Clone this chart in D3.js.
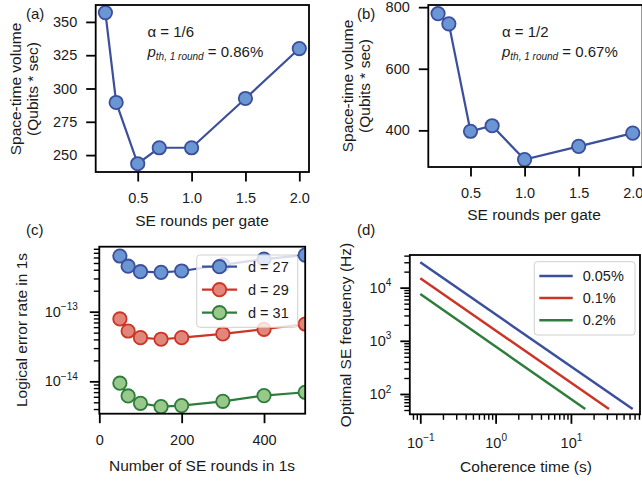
<!DOCTYPE html>
<html><head><meta charset="utf-8">
<script src="https://cdn.jsdelivr.net/npm/d3@7"></script>
<style>body{margin:0;background:#fff}svg text{font-family:"Liberation Sans",Arial,Helvetica,sans-serif;fill:#1a1a1a}</style>
</head><body><svg id="c" width="642" height="482"></svg>
<script>
// ---------------- data ----------------
const seRoundsPerGate = [0.2, 0.3, 0.5, 0.7, 1.0, 1.5, 2.0];
const volumeAlpha16 = [357, 289.5, 243.5, 255.5, 255.5, 292.5, 330];
const volumeAlpha12 = [779, 746, 397, 415, 305, 348, 391];

const roundsIn1s = [50, 70, 100, 150, 200, 300, 400, 500];
const errD27 = [6.3e-13, 4.5e-13, 3.75e-13, 3.67e-13, 3.84e-13, 4.7e-13, 5.7e-13, 6.5e-13];
const errD29 = [7.86e-14, 5.28e-14, 4.24e-14, 4.02e-14, 4.24e-14, 4.79e-14, 5.59e-14, 6.65e-14];
const errD31 = [9.4e-15, 6.17e-15, 4.84e-15, 4.33e-15, 4.48e-15, 5.17e-15, 6.24e-15, 6.97e-15];
const distLabels = ['d = 27', 'd = 29', 'd = 31'];

const coherence005 = [0.1, 66];  const freq005 = [30000, 52];
const coherence01  = [0.1, 32];  const freq01  = [15000, 52];
const coherence02  = [0.1, 15.5]; const freq02 = [7600, 52];
const errLabels = ['0.05%', '0.1%', '0.2%'];

const abXTicks = [0.5, 1.0, 1.5, 2.0];
const abXTickLabels = ['0.5', '1.0', '1.5', '2.0'];
const aYTicks = [250, 275, 300, 325, 350];
const bYTicks = [400, 600, 800];
const cXTicks = [0, 200, 400];
const cYTicks = [1e-14, 1e-13];
const cYTickExps = ['\u221214', '\u221213'];
const dXTicks = [0.1, 1, 10];
const dXTickExps = ['\u22121', '0', '1'];
const dYTicks = [100, 1000, 10000];
const dYTickExps = ['2', '3', '4'];

// ---------------- style ----------------
const FONT = '"Liberation Sans", Arial, Helvetica, sans-serif';
const TICK_FS = 14.5, LABEL_FS = 15.5;
const TL = 9.5, TLm = 5.5, XPAD = 11.5, YPAD = 9;
const BLUE = '#3c4f9c', BLUE_F = '#6a97d3';
const RED = '#cc3526', RED_F = '#e0867a';
const GREEN = '#2e7d3c', GREEN_F = '#98c88a';
const svg = d3.select('#c');

function frame(b) {
  svg.append('rect').attr('x', b.x0).attr('y', b.y0).attr('width', b.x1 - b.x0).attr('height', b.y1 - b.y0)
    .attr('fill', 'none').attr('stroke', '#000').attr('stroke-width', 1.8);
}
function axis(gen, tr, vals, size, width, fmt, pad) {
  const g = svg.append('g').attr('transform', tr)
    .call(gen.tickValues(vals).tickSize(size).tickSizeOuter(0).tickPadding(pad || 4).tickFormat(fmt));
  g.select('.domain').remove();
  g.selectAll('line').attr('stroke', '#000').attr('stroke-width', width);
  g.selectAll('text').attr('font-size', TICK_FS).attr('font-family', FONT).attr('fill', '#1a1a1a');
  return g;
}
function supLabels(g, exps) {
  g.selectAll('text').each(function (d, i) {
    const t = d3.select(this); t.text(null);
    t.append('tspan').text('10');
    t.append('tspan').attr('dy', -6.5).attr('font-size', 10).text(exps[i]);
  });
}
function minorLog(domain) {
  const out = [];
  for (let e = Math.floor(Math.log10(domain[0])); e <= Math.ceil(Math.log10(domain[1])); e++)
    for (let k = 2; k <= 9; k++) { const v = k * Math.pow(10, e); if (v >= domain[0] && v <= domain[1]) out.push(v); }
  return out;
}
function label(x, y, txt, rot, fs) {
  const t = svg.append('text').attr('font-size', fs || LABEL_FS).attr('text-anchor', 'middle').text(txt);
  if (rot) t.attr('transform', `translate(${x},${y}) rotate(-90)`); else t.attr('x', x).attr('y', y);
  return t;
}
function series(g, x, y, xs, ys, col, face, clip) {
  const pts = xs.map((v, i) => [x(v), y(ys[i])]);
  const gg = g.append('g'); if (clip) gg.attr('clip-path', `url(#${clip})`);
  gg.append('path').attr('d', d3.line()(pts)).attr('fill', 'none').attr('stroke', col).attr('stroke-width', 2.2);
  gg.selectAll('circle.m').data(pts).enter().append('circle').attr('cx', d => d[0]).attr('cy', d => d[1])
    .attr('r', 6.7).attr('fill', face).attr('stroke', col).attr('stroke-width', 1.8);
}
function annot(x, y, alphaTxt, pTxt) {
  svg.append('text').attr('x', x).attr('y', y).attr('font-size', 15).text('\u03b1 = ' + alphaTxt);
  const t = svg.append('text').attr('x', x).attr('y', y + 20).attr('font-size', 15);
  t.append('tspan').attr('font-style', 'italic').text('p');
  t.append('tspan').attr('font-style', 'italic').attr('font-size', 10).attr('dy', 3).text('th, 1 round');
  t.append('tspan').attr('dy', -3).text(' = ' + pTxt);
}

// ---------------- panel (a) ----------------
{
  const b = { x0: 95.7, x1: 309, y0: 5, y1: 172 };
  const x = d3.scaleLinear().domain([0.11, 2.09]).range([b.x0, b.x1]);
  const y = d3.scaleLinear().domain([237.3, 362.7]).range([b.y1, b.y0]);
  series(svg, x, y, seRoundsPerGate, volumeAlpha16, BLUE, BLUE_F);
  frame(b);
  axis(d3.axisBottom(x), `translate(0,${b.y1})`, abXTicks, TL, 1.8, (d, i) => abXTickLabels[i], XPAD);
  axis(d3.axisLeft(y), `translate(${b.x0},0)`, aYTicks, TL, 1.8, d3.format('d'), YPAD);
  annot(147.5, 37, '1/6', '0.86%');
  label(202, 226, 'SE rounds per gate');
  label(16, 89, 'Space-time volume', true).attr('dy', 5);
  label(33, 89, '(Qubits * sec)', true).attr('dy', 5);
  svg.append('text').attr('x', 26).attr('y', 19).attr('font-size', 15).text('(a)');
}
// ---------------- panel (b) ----------------
{
  const b = { x0: 428.3, x1: 642.5, y0: 5, y1: 167 };
  const x = d3.scaleLinear().domain([0.11, 2.09]).range([b.x0, b.x1]);
  const y = d3.scaleLinear().domain([281, 807]).range([b.y1, b.y0]);
  series(svg, x, y, seRoundsPerGate, volumeAlpha12, BLUE, BLUE_F);
  frame(b);
  axis(d3.axisBottom(x), `translate(0,${b.y1})`, abXTicks, TL, 1.8, (d, i) => abXTickLabels[i], XPAD);
  axis(d3.axisLeft(y), `translate(${b.x0},0)`, bYTicks, TL, 1.8, d3.format('d'), YPAD);
  annot(502, 37, '1/2', '0.67%');
  label(534, 220, 'SE rounds per gate');
  label(347.5, 86, 'Space-time volume', true).attr('dy', 5);
  label(364.5, 86, '(Qubits * sec)', true).attr('dy', 5);
  svg.append('text').attr('x', 357).attr('y', 19).attr('font-size', 15).text('(b)');
}
// ---------------- panel (c) ----------------
{
  const b = { x0: 99.3, x1: 305.2, y0: 246.7, y1: 413.7 };
  const x = d3.scaleLinear().domain([0, 500]).range([b.x0, b.x1]);
  const yd = [3.43e-15, 8.57e-13];
  const y = d3.scaleLog().domain(yd).range([b.y1, b.y0]);
  svg.append('clipPath').attr('id', 'clipc').append('rect').attr('x', b.x0).attr('y', b.y0).attr('width', b.x1 - b.x0).attr('height', b.y1 - b.y0);
  const sets = [[errD27, BLUE, BLUE_F], [errD29, RED, RED_F], [errD31, GREEN, GREEN_F]];
  sets.forEach(s => series(svg, x, y, roundsIn1s, s[0], s[1], s[2], 'clipc'));
  frame(b);
  axis(d3.axisBottom(x), `translate(0,${b.y1})`, cXTicks, TL, 1.8, d3.format('d'), XPAD);
  axis(d3.axisLeft(y), `translate(${b.x0},0)`, minorLog(yd), TLm, 1.4, () => '');
  supLabels(axis(d3.axisLeft(y), `translate(${b.x0},0)`, cYTicks, TL, 1.8, () => '', YPAD + 3), cYTickExps);
  // legend
  const L = svg.append('g');
  L.append('rect').attr('x', 196.7).attr('y', 255).attr('width', 101).attr('height', 72.3).attr('rx', 3)
    .attr('fill', '#fff').attr('fill-opacity', 0.8).attr('stroke', '#d0d0d0').attr('stroke-width', 1);
  sets.forEach((s, i) => {
    const cy = 266.7 + i * 23;
    L.append('line').attr('x1', 202).attr('x2', 237).attr('y1', cy).attr('y2', cy).attr('stroke', s[1]).attr('stroke-width', 2.2);
    L.append('circle').attr('cx', 219.5).attr('cy', cy).attr('r', 6.7).attr('fill', s[2]).attr('stroke', s[1]).attr('stroke-width', 1.8);
    L.append('text').attr('x', 248).attr('y', cy + 5).attr('font-size', 14.5).text(distLabels[i]);
  });
  label(202, 471, 'Number of SE rounds in 1s');
  label(21.5, 330, 'Logical error rate in 1s', true).attr('dy', 5);
  svg.append('text').attr('x', 26).attr('y', 235).attr('font-size', 15).text('(c)');
}
// ---------------- panel (d) ----------------
{
  const b = { x0: 409.8, x1: 640, y0: 255, y1: 414.3 };
  const xd = [0.0726, 82.6], yd = [41.5, 41100];
  const x = d3.scaleLog().domain(xd).range([b.x0, b.x1]);
  const y = d3.scaleLog().domain(yd).range([b.y1, b.y0]);
  const sets = [[coherence005, freq005, BLUE], [coherence01, freq01, RED], [coherence02, freq02, GREEN]];
  sets.forEach(s => {
    svg.append('path').attr('d', d3.line()(s[0].map((v, i) => [x(v), y(s[1][i])])))
      .attr('fill', 'none').attr('stroke', s[2]).attr('stroke-width', 2.5);
  });
  frame(b);
  axis(d3.axisBottom(x), `translate(0,${b.y1})`, minorLog(xd), TLm, 1.4, () => '');
  supLabels(axis(d3.axisBottom(x), `translate(0,${b.y1})`, dXTicks, TL, 1.8, () => '', XPAD + 2), dXTickExps);
  axis(d3.axisLeft(y), `translate(${b.x0},0)`, minorLog(yd), TLm, 1.4, () => '');
  supLabels(axis(d3.axisLeft(y), `translate(${b.x0},0)`, dYTicks, TL, 1.8, () => '', YPAD), dYTickExps);
  const L = svg.append('g');
  L.append('rect').attr('x', 534.3).attr('y', 261.7).attr('width', 100.7).attr('height', 73.3).attr('rx', 3)
    .attr('fill', '#fff').attr('fill-opacity', 0.8).attr('stroke', '#d0d0d0').attr('stroke-width', 1);
  sets.forEach((s, i) => {
    const cy = 276 + i * 22.1;
    L.append('line').attr('x1', 539.3).attr('x2', 572.7).attr('y1', cy).attr('y2', cy).attr('stroke', s[2]).attr('stroke-width', 2.5);
    L.append('text').attr('x', 582.7).attr('y', cy + 5).attr('font-size', 14.5).text(errLabels[i]);
  });
  label(526, 472, 'Coherence time (s)');
  label(346, 335, 'Optimal SE frequency (Hz)', true).attr('dy', 5);
  svg.append('text').attr('x', 357).attr('y', 235).attr('font-size', 15).text('(d)');
}
</script></body></html>
